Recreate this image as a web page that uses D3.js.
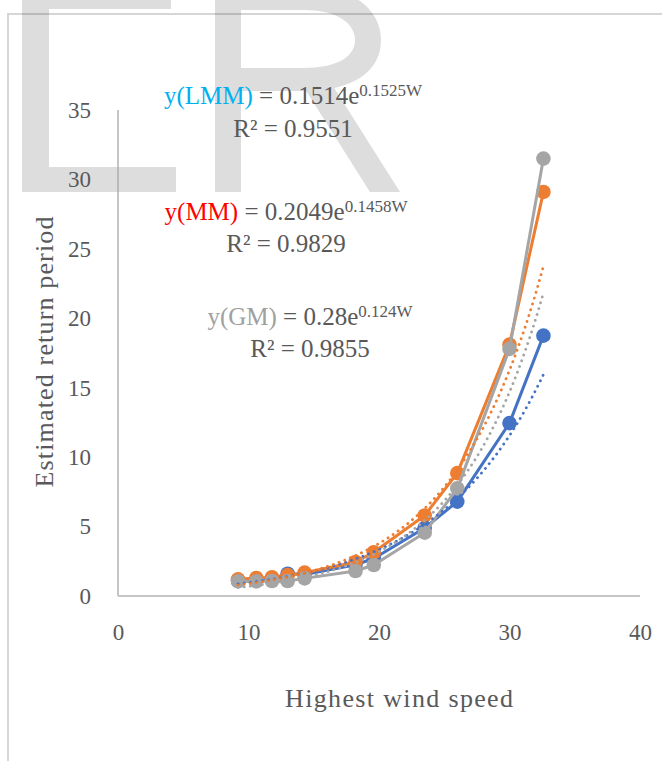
<html>
<head>
  <title>Estimated return period vs highest wind speed</title>
  <script src="https://cdnjs.cloudflare.com/ajax/libs/d3/7.8.5/d3.min.js" charset="utf-8"></script>
  <style>
    body { margin: 0; background: #fff; }
    text { font-family: 'Palatino Linotype', 'Book Antiqua', Palatino, 'Liberation Serif', serif; }
  </style>
</head>
<body>
<script type="text/javascript">
  // highest wind speed (x) and estimated return period per method (y)
  var windSpeed = [9.2, 10.6, 11.8, 13.0, 14.3, 18.2, 19.6, 23.5, 26.0, 30.0, 32.6];
  var periodLMM = [1.1, 1.15, 1.25, 1.6, 1.55, 2.25, 2.7, 4.9, 6.8, 12.45, 18.75];
  var periodMM  = [1.2, 1.3, 1.35, 1.5, 1.68, 2.45, 3.15, 5.8, 8.85, 18.1, 29.1];
  var periodGM  = [1.05, 1.05, 1.08, 1.08, 1.27, 1.8, 2.23, 4.56, 7.75, 17.8, 31.5];

  var seriesNames  = ["LMM", "MM", "GM"];
  var seriesColors = ["#4472C4", "#ED7D31", "#A5A5A5"];

  // exponential trendlines y = a * e^(bW), as printed on the chart
  // (dotted curves: blue follows 0.28e^0.124W, gray follows 0.1514e^0.1525W)
  var trendA = [0.28, 0.2049, 0.1514];
  var trendB = [0.124, 0.1458, 0.1525];

  var xTicks = [0, 10, 20, 30, 40];
  var yTicks = [0, 5, 10, 15, 20, 25, 30, 35];

  var eqLabels = ["y(LMM)", "y(MM)", "y(GM)"];
  var eqColors = ["#00B0F0", "#FF0000", "#A0A0A0"];
  var eqCoef   = ["0.1514", "0.2049", "0.28"];
  var eqPower  = ["0.1525W", "0.1458W", "0.124W"];
  var eqR2     = ["0.9551", "0.9829", "0.9855"];

  var series = [periodLMM, periodMM, periodGM];

  var svg = d3.select("body").append("svg")
              .attr("width", 662)
              .attr("height", 761);

  // faint "ER" watermark left over from the page
  var mark = svg.append("g").attr("fill", "#DDDDDD");
  mark.append("path").attr("d", "M22,-20 H171 V9 H49 V167 H176 V192 H22 Z");
  mark.append("path").attr("d", "M215,-20 H241 V192 H215 Z");
  mark.append("path").attr("d", "M241,-15 H300 C350,-15 381,8 381,40 C381,72 352,91 305,91 H241 V68 H303 C337,68 355,57 355,40 C355,23 337,10 303,10 H241 Z");
  mark.append("path").attr("d", "M303,86 H333 L400,192 H370 Z");

  // chart frame (only top and left edges are in the crop)
  svg.append("path")
     .attr("d", "M8,761 V14 H662")
     .attr("fill", "none")
     .attr("stroke", "#000")
     .attr("stroke-opacity", 0.16)
     .attr("stroke-width", 2);

  var xScale = d3.scaleLinear().domain([0, 40]).range([118, 640]);
  var yScale = d3.scaleLinear().domain([0, 35]).range([596, 110]);

  var xAxis = d3.axisBottom(xScale).tickValues(xTicks).tickSize(0).tickPadding(28);
  var yAxis = d3.axisLeft(yScale).tickValues(yTicks).tickSize(0).tickPadding(27);

  var gx = svg.append("g").attr("transform", "translate(0,596)").call(xAxis);
  var gy = svg.append("g").attr("transform", "translate(118,0)").call(yAxis);
  [gx, gy].forEach(function(g) {
    g.select(".domain").remove();
    g.selectAll("text").attr("fill", "#595959").style("font-size", "23px")
     .style("font-family", "'Palatino Linotype', 'Book Antiqua', Palatino, 'Liberation Serif', serif");
  });

  svg.append("line")
     .attr("x1", 118).attr("x2", 118)
     .attr("y1", yScale(35)).attr("y2", yScale(0))
     .attr("stroke", "#A6A6A6").attr("stroke-width", 1.3);
  svg.append("line")
     .attr("x1", xScale(0)).attr("x2", xScale(40))
     .attr("y1", yScale(0)).attr("y2", yScale(0))
     .attr("stroke", "#C6C6C6").attr("stroke-width", 2);

  var line = d3.line()
               .x(function(d) { return xScale(d[0]); })
               .y(function(d) { return yScale(d[1]); });

  series.forEach(function(vals, i) {
    var pts = windSpeed.map(function(w, j) { return [w, vals[j]]; });
    var g = svg.append("g").attr("class", "series " + seriesNames[i]);
    g.append("path")
     .attr("d", line(pts))
     .attr("fill", "none")
     .attr("stroke", seriesColors[i])
     .attr("stroke-width", 3)
     .attr("stroke-linejoin", "round");
    g.selectAll("circle")
     .data(pts)
     .enter()
     .append("circle")
     .attr("cx", function(d) { return xScale(d[0]); })
     .attr("cy", function(d) { return yScale(d[1]); })
     .attr("r", 7.3)
     .attr("fill", seriesColors[i]);
  });

  // dotted exponential trendlines across the data range
  var wMin = d3.min(windSpeed), wMax = d3.max(windSpeed);
  var wSteps = d3.range(wMin, wMax, 0.2).concat([wMax]);
  trendA.forEach(function(a, i) {
    var pts = wSteps.map(function(w) { return [w, a * Math.exp(trendB[i] * w)]; });
    svg.append("path")
       .attr("d", line(pts))
       .attr("fill", "none")
       .attr("stroke", seriesColors[i])
       .attr("stroke-width", 2.8)
       .attr("stroke-linecap", "round")
       .attr("stroke-dasharray", "0.1 6");
  });

  // trendline equation labels
  var eqPos = [[293, 104, 137], [286, 220, 252], [310, 325, 357]];
  eqLabels.forEach(function(lab, i) {
    var t = svg.append("text")
               .attr("x", eqPos[i][0]).attr("y", eqPos[i][1])
               .attr("text-anchor", "middle")
               .attr("fill", "#595959")
               .style("font-size", "25px");
    t.append("tspan").attr("fill", eqColors[i]).text(lab);
    t.append("tspan").text(" = " + eqCoef[i] + "e");
    t.append("tspan").attr("dy", -8).style("font-size", "17px").text(eqPower[i]);

    svg.append("text")
       .attr("x", eqPos[i][0]).attr("y", eqPos[i][2])
       .attr("text-anchor", "middle")
       .attr("fill", "#595959")
       .style("font-size", "25px")
       .text("R\u00B2 = " + eqR2[i]);
  });

  svg.append("text")
     .attr("x", 399).attr("y", 707)
     .attr("text-anchor", "middle")
     .attr("textLength", 228)
     .attr("fill", "#595959")
     .style("font-size", "26px")
     .text("Highest wind speed");

  svg.append("text")
     .attr("transform", "translate(53,352) rotate(-90)")
     .attr("text-anchor", "middle")
     .attr("textLength", 271)
     .attr("fill", "#595959")
     .style("font-size", "26px")
     .text("Estimated return period");
</script>
</body>
</html>
